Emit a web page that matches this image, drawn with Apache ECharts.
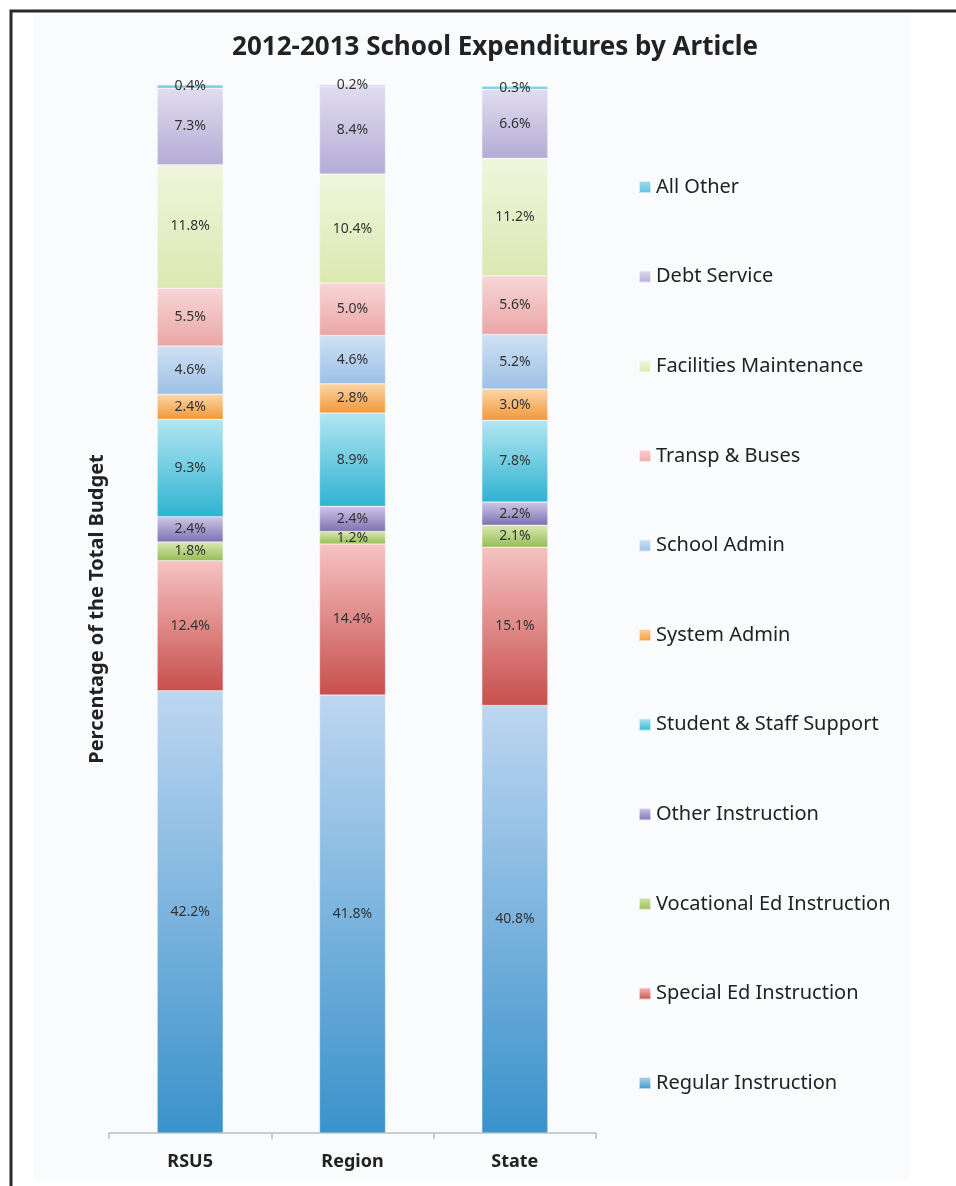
<!DOCTYPE html>
<html>
<head>
<meta charset="utf-8">
<script src="https://cdn.jsdelivr.net/npm/echarts@6/dist/echarts.min.js"></script>
<style>
  html, body { margin: 0; padding: 0; background: #fff; }
  #chart { width: 956px; height: 1186px; }
</style>
</head>
<body>
<div id="chart"></div>
<script>
// categories along the x axis
const categories = ["RSU5", "Region", "State"];

// percentage of the total budget, bottom of the stack first
const regularInstruction = [42.2, 41.8, 40.8];
const specialEdInstruction = [12.4, 14.4, 15.1];
const vocationalEdInstruction = [1.8, 1.2, 2.1];
const otherInstruction = [2.4, 2.4, 2.2];
const studentStaffSupport = [9.3, 8.9, 7.8];
const systemAdmin = [2.4, 2.8, 3.0];
const schoolAdmin = [4.6, 4.6, 5.2];
const transpBuses = [5.5, 5.0, 5.6];
const facilitiesMaintenance = [11.8, 10.4, 11.2];
const debtService = [7.3, 8.4, 6.6];
const allOther = [0.4, 0.2, 0.3];

const seriesList = [
  { name: "Regular Instruction", data: regularInstruction, light: "#bdd6f1", dark: "#3a92cb" },
  { name: "Special Ed Instruction", data: specialEdInstruction, light: "#f6c3c3", dark: "#c74f4c" },
  { name: "Vocational Ed Instruction", data: vocationalEdInstruction, light: "#d8e8b0", dark: "#97bd55" },
  { name: "Other Instruction", data: otherInstruction, light: "#cdc7e6", dark: "#7f71b3" },
  { name: "Student & Staff Support", data: studentStaffSupport, light: "#b3e6f2", dark: "#2fb3d1" },
  { name: "System Admin", data: systemAdmin, light: "#fcd6a8", dark: "#f2983a" },
  { name: "School Admin", data: schoolAdmin, light: "#cfe1f4", dark: "#9dc0e6" },
  { name: "Transp & Buses", data: transpBuses, light: "#f8d6d6", dark: "#eba6a6" },
  { name: "Facilities Maintenance", data: facilitiesMaintenance, light: "#f0f6dc", dark: "#dbe8b2" },
  { name: "Debt Service", data: debtService, light: "#e1ddef", dark: "#b4acd6" },
  { name: "All Other", data: allOther, light: "#a6def0", dark: "#5cc2e0" }
];

const FONT = "Noto Sans";

const chart = echarts.init(document.getElementById("chart"));

const option = {
  backgroundColor: "#ffffff",
  textStyle: { fontFamily: FONT },
  graphic: [
    {
      type: "rect",
      z: -10,
      shape: { x: 33, y: 15, width: 877, height: 1165 },
      style: { fill: "#fafbfd" }
    },
    {
      type: "polyline",
      z: 10,
      shape: { points: [[11, 1186], [11, 11], [956, 11]] },
      style: { stroke: "#2a2a2a", lineWidth: 3, fill: null }
    }
  ],
  title: {
    text: "2012-2013 School Expenditures by Article",
    left: 490,
    textAlign: "center",
    top: 30,
    textStyle: { fontFamily: FONT, fontSize: 26, fontWeight: "bold", color: "#222" }
  },
  legend: {
    orient: "vertical",
    left: 633,
    top: 171,
    itemWidth: 12,
    itemHeight: 12,
    itemGap: 67.6,
    icon: "rect",
    data: seriesList.map((s) => s.name).reverse(),
    textStyle: { fontFamily: FONT, fontSize: 20, color: "#222", lineHeight: 22 }
  },
  grid: {
    left: 109,
    right: 360,
    top: 85,
    bottom: 53
  },
  xAxis: {
    type: "category",
    data: categories,
    axisLine: { lineStyle: { color: "#bdbdbd", width: 1.5 } },
    axisTick: { show: true, length: 6, lineStyle: { color: "#bdbdbd", width: 1.5 } },
    axisLabel: {
      margin: 20,
      fontFamily: FONT,
      fontSize: 18,
      fontWeight: "bold",
      color: "#222"
    }
  },
  yAxis: {
    type: "value",
    min: 0,
    max: 100,
    name: "Percentage of the Total Budget",
    nameLocation: "middle",
    nameGap: 2,
    nameTextStyle: { fontFamily: FONT, fontSize: 20, fontWeight: "bold", color: "#222" },
    axisLine: { show: false },
    axisTick: { show: false },
    axisLabel: { show: false },
    splitLine: { show: false }
  },
  series: seriesList.map((s) => ({
    name: s.name,
    type: "bar",
    stack: "total",
    barWidth: 66,
    data: s.data,
    itemStyle: {
      color: new echarts.graphic.LinearGradient(0, 0, 0, 1, [
        { offset: 0, color: s.light },
        { offset: 1, color: s.dark }
      ]),
      borderColor: "rgba(255,255,255,0.6)",
      borderWidth: 0.5
    },
    label: {
      show: true,
      position: "inside",
      formatter: (p) => p.value.toFixed(1) + "%",
      fontFamily: FONT,
      fontSize: 14,
      color: "#333"
    }
  }))
};

chart.setOption(option);
</script>
</body>
</html>
